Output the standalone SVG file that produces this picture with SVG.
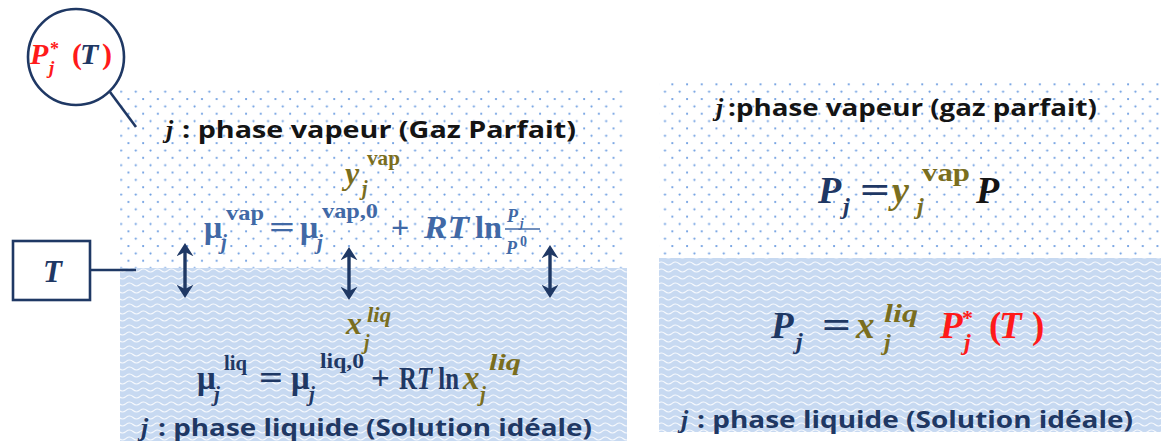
<svg xmlns="http://www.w3.org/2000/svg" width="1161" height="441" viewBox="0 0 1161 441">
<style>
.m{font-family:"Liberation Serif","DejaVu Serif",serif;font-weight:bold}
.i{font-style:italic}
.lab{font-family:"Open Sans","Liberation Sans",sans-serif;font-weight:bold}
.navy{fill:#1f3864}
.steel{fill:#4169a6}
.olive{fill:#7a6e1e}
.red{fill:#ff1a1a}
.blk{fill:#141414}
.ln{stroke:#1f3864;stroke-width:2.6;fill:none}
.arr{stroke:#1f3864;stroke-width:3.4;fill:none;marker-start:url(#ah);marker-end:url(#ah)}
</style>
<defs>
<pattern id="dots" patternUnits="userSpaceOnUse" width="14.7" height="14.7">
<circle cx="3.5" cy="3.5" r="1.1" fill="#6a9be0"/>
<circle cx="10.85" cy="10.85" r="1.1" fill="#6a9be0"/>
</pattern>
<pattern id="waves" patternUnits="userSpaceOnUse" width="14" height="7">
<rect width="14" height="7" fill="#c7d9f1"/>
<path d="M0,4.5 Q3.5,1.5 7,4.5 T14,4.5" stroke="#ffffff" stroke-width="1.2" fill="none" opacity="0.85"/>
</pattern>
<marker id="ah" markerUnits="userSpaceOnUse" markerWidth="14" markerHeight="17" refX="5" refY="8" orient="auto-start-reverse" viewBox="0 0 13 16">
<path d="M0,0 L12.5,8 L0,16 L4,8 Z" fill="#1f3864"/>
</marker>
</defs>

<g id="left-panel">
<rect x="120" y="89" width="507" height="179" fill="url(#dots)"/>
<rect x="120" y="268" width="507" height="173" fill="url(#waves)"/>
</g>
<g id="right-panel">
<rect x="659" y="82" width="502" height="176" fill="url(#dots)"/>
<rect x="659" y="258" width="502" height="174" fill="url(#waves)"/>
</g>

<g id="connectors">
<line class="ln" x1="110" y1="92" x2="136" y2="127"/>
<line class="ln" x1="90" y1="270" x2="136" y2="270"/>
<line class="arr" x1="185" y1="251" x2="185" y2="290"/>
<line class="arr" x1="349" y1="255" x2="349" y2="292"/>
<line class="arr" x1="550" y1="253" x2="550" y2="290"/>
</g>

<g id="pstar-circle">
<circle cx="76" cy="57" r="48" fill="#ffffff" class="ln"/>
<text class="m i red" x="30" y="64" font-size="30">P</text>
<text class="m i red" x="49" y="74" font-size="19">j</text>
<text class="m red" x="50" y="55" font-size="18">*</text>
<text class="m red" x="72" y="64" font-size="30" font-weight="normal">(</text>
<text class="m i navy" x="80" y="64" font-size="30">T</text>
<text class="m red" x="102" y="64" font-size="30" font-weight="normal">)</text>
</g>

<g id="T-box">
<rect x="13" y="241" width="77" height="59" fill="#ffffff" class="ln"/>
<text class="m i navy" x="43" y="282" font-size="31">T</text>
</g>

<g id="left-vap-label">
<text class="m i blk" x="166" y="138" font-size="26">j</text>
<text class="lab blk" x="182" y="138" font-size="23" textLength="394" lengthAdjust="spacingAndGlyphs">: phase vapeur (Gaz Parfait)</text>
</g>

<g id="left-yvap">
<text class="m i olive" x="345" y="184" font-size="32">y</text>
<text class="m i olive" x="362" y="195" font-size="20">j</text>
<text class="m olive" x="367" y="165" font-size="21" textLength="33" lengthAdjust="spacingAndGlyphs">vap</text>
</g>

<g id="left-vap-formula">
<text class="m steel" x="204" y="238" font-size="32">μ</text>
<text class="m i steel" x="221" y="249" font-size="21">j</text>
<text class="m steel" x="226" y="220" font-size="21" textLength="38" lengthAdjust="spacingAndGlyphs">vap</text>
<text class="m steel" x="269" y="238" font-size="32" textLength="26" lengthAdjust="spacingAndGlyphs">=</text>
<text class="m steel" x="300" y="238" font-size="32">μ</text>
<text class="m i steel" x="317" y="249" font-size="21">j</text>
<text class="m steel" x="322" y="218" font-size="21" textLength="56" lengthAdjust="spacingAndGlyphs">vap,0</text>
<text class="m steel" x="391" y="238" font-size="32">+</text>
<text class="m i steel" x="424" y="238" font-size="32" textLength="45" lengthAdjust="spacingAndGlyphs">RT</text>
<text class="m steel" x="475" y="238" font-size="32" textLength="27" lengthAdjust="spacingAndGlyphs">ln</text>
<text class="m i steel" x="507" y="222" font-size="18">P</text>
<text class="m i steel" x="520" y="227" font-size="13">j</text>
<line x1="505" y1="229" x2="540" y2="229" stroke="#4169a6" stroke-width="1.4"/>
<text class="m i steel" x="506" y="254" font-size="18">P</text>
<text class="m steel" x="520" y="246" font-size="14">0</text>
</g>

<g id="left-xliq">
<text class="m i olive" x="346" y="334" font-size="32">x</text>
<text class="m i olive" x="364" y="349" font-size="20">j</text>
<text class="m i olive" x="367" y="322" font-size="21" textLength="24" lengthAdjust="spacingAndGlyphs">liq</text>
</g>

<g id="left-liq-formula">
<text class="m navy" x="197" y="389" font-size="33">μ</text>
<text class="m i navy" x="214" y="401" font-size="21">j</text>
<text class="m navy" x="224" y="370" font-size="22" textLength="23" lengthAdjust="spacingAndGlyphs">liq</text>
<text class="m navy" x="259" y="389" font-size="33" textLength="24" lengthAdjust="spacingAndGlyphs">=</text>
<text class="m navy" x="291" y="389" font-size="33">μ</text>
<text class="m i navy" x="309" y="401" font-size="21">j</text>
<text class="m navy" x="320" y="368" font-size="22" textLength="44" lengthAdjust="spacingAndGlyphs">liq,0</text>
<text class="m navy" x="371" y="389" font-size="33">+</text>
<text class="m navy" x="399" y="389" font-size="32" textLength="60" lengthAdjust="spacingAndGlyphs">R<tspan class="i">T</tspan> ln</text>
<text class="m i olive" x="463" y="389" font-size="33">x</text>
<text class="m i olive" x="480" y="401" font-size="21">j</text>
<text class="m i olive" x="489" y="370" font-size="23" textLength="32" lengthAdjust="spacingAndGlyphs">liq</text>
</g>

<g id="left-liq-label">
<text class="m i navy" x="141" y="436" font-size="26">j</text>
<text class="lab navy" x="158" y="436" font-size="23" textLength="434" lengthAdjust="spacingAndGlyphs">: phase liquide (Solution idéale)</text>
</g>

<g id="right-vap-label">
<text class="m i blk" x="716" y="116" font-size="26">j</text>
<text class="lab blk" x="728" y="116" font-size="23" textLength="369" lengthAdjust="spacingAndGlyphs">:phase vapeur (gaz parfait)</text>
</g>

<g id="right-vap-formula">
<text class="m i navy" x="818" y="203" font-size="38">P</text>
<text class="m i navy" x="843" y="214" font-size="24">j</text>
<text class="m navy" x="860" y="203" font-size="38" textLength="30" lengthAdjust="spacingAndGlyphs">=</text>
<text class="m i olive" x="892" y="203" font-size="38">y</text>
<text class="m i olive" x="917" y="214" font-size="24">j</text>
<text class="m olive" x="922" y="181" font-size="26" textLength="48" lengthAdjust="spacingAndGlyphs">vap</text>
<text class="m i blk" x="976" y="203" font-size="38">P</text>
</g>

<g id="right-liq-formula">
<text class="m i navy" x="771" y="338" font-size="37">P</text>
<text class="m i navy" x="796" y="349" font-size="24">j</text>
<text class="m navy" x="822" y="338" font-size="37" textLength="29" lengthAdjust="spacingAndGlyphs">=</text>
<text class="m i olive" x="856" y="338" font-size="37">x</text>
<text class="m i olive" x="884" y="350" font-size="24">j</text>
<text class="m i olive" x="884" y="322" font-size="25" textLength="34" lengthAdjust="spacingAndGlyphs">liq</text>
<text class="m i red" x="940" y="338" font-size="37">P</text>
<text class="m i red" x="964" y="350" font-size="24">j</text>
<text class="m red" x="962" y="325" font-size="22">*</text>
<text class="m red" x="989" y="338" font-size="37" font-weight="normal">(</text>
<text class="m i red" x="999" y="338" font-size="37">T</text>
<text class="m red" x="1032" y="338" font-size="37" font-weight="normal">)</text>
</g>

<g id="right-liq-label">
<text class="m i navy" x="681" y="428" font-size="26">j</text>
<text class="lab navy" x="697" y="428" font-size="24" textLength="436" lengthAdjust="spacingAndGlyphs">: phase liquide (Solution idéale)</text>
</g>
</svg>
